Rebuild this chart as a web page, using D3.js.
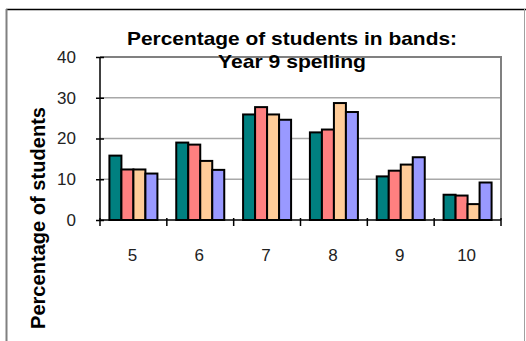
<!DOCTYPE html>
<html><head><meta charset="utf-8">
<script src="https://cdn.jsdelivr.net/npm/d3@7"></script>
<style>html,body{margin:0;padding:0;background:#fff;}svg{display:block;}</style>
</head><body>
<script>
const categories = ["5","6","7","8","9","10"];
const seriesNames = ["s1","s2","s3","s4"];
const s1 = [15.8, 19.0, 25.9, 21.5, 10.7, 6.2];
const s2 = [12.4, 18.5, 27.7, 22.2, 12.1, 6.0];
const s3 = [12.4, 14.5, 25.9, 28.7, 13.6, 3.9];
const s4 = [11.4, 12.3, 24.6, 26.5, 15.4, 9.2];
const colors = ["#008080", "#FF8080", "#FFCC99", "#9999FF"];
const yTicks = [0, 10, 20, 30, 40];
const titleLines = ["Percentage of students in bands:", "Year 9 spelling"];
const yTitle = "Percentage of students";

(function () {
const W = 526, H = 341;
const FONT = "Arial, 'Liberation Sans', sans-serif";
const svg = d3.select("body").append("svg").attr("width", W).attr("height", H);

// outer frame
svg.append("line").attr("x1", 6).attr("x2", W).attr("y1", 9.5).attr("y2", 9.5).attr("stroke", "#000").attr("stroke-width", 1.5);
svg.append("line").attr("x1", 6.5).attr("x2", 6.5).attr("y1", 9).attr("y2", H).attr("stroke", "#808080").attr("stroke-width", 2);
svg.append("line").attr("x1", 524.5).attr("x2", 524.5).attr("y1", 9).attr("y2", H).attr("stroke", "#a0a0a0").attr("stroke-width", 1);

const pL = 100, pR = 501, pT = 57, pB = 220;
const x = d3.scaleBand().domain(categories).range([pL, pR]).padding(0);
const y = d3.scaleLinear().domain([0, 40]).range([pB, pT]);
const barW = 12;
const xs = d3.scaleBand().domain(seriesNames).range([0, barW * 4]).padding(0);
const groupOff = (x.bandwidth() - barW * 4) / 2;

// gridlines
svg.append("g").selectAll("line").data(yTicks.filter(d => d > 0)).join("line")
  .attr("x1", pL).attr("x2", pR).attr("y1", d => y(d)).attr("y2", d => y(d))
  .attr("stroke", "#a8a8a8").attr("stroke-width", 1.5);
// plot border top/right
svg.append("path").attr("d", `M${pL},${pT}H${pR}V${pB}`).attr("fill", "none").attr("stroke", "#808080").attr("stroke-width", 2);

// bars
const all = [s1, s2, s3, s4];
all.forEach((vals, si) => {
  svg.append("g").selectAll("rect").data(vals).join("rect")
    .attr("x", (d, i) => x(categories[i]) + groupOff + xs(seriesNames[si]))
    .attr("y", d => y(d))
    .attr("width", xs.bandwidth())
    .attr("height", d => y(0) - y(d))
    .attr("fill", colors[si]).attr("stroke", "#000").attr("stroke-width", 2);
});

// y axis
const ya = svg.append("g").attr("transform", `translate(${pL},0)`)
  .call(d3.axisLeft(y).tickValues(yTicks).tickSize(4).tickPadding(20).tickFormat(d3.format("d")));
ya.select(".domain").attr("stroke", "#000").attr("stroke-width", 1.5).attr("d", `M0,${pT}V${pB}`);
ya.selectAll(".tick line").attr("x1", -4).attr("x2", 4).attr("stroke", "#000").attr("stroke-width", 1.5);
ya.selectAll("text").attr("font-family", FONT).attr("font-size", 17).attr("fill", "#222");

// x axis
const xa = svg.append("g").attr("transform", `translate(0,${pB})`)
  .call(d3.axisBottom(x).tickSize(0).tickPadding(29));
xa.select(".domain").attr("stroke", "#000").attr("stroke-width", 1.5).attr("d", `M${pL},0H${pR}`);
xa.selectAll("text").attr("font-family", FONT).attr("font-size", 17).attr("fill", "#222").attr("dx", -1);
const bounds = categories.map(c => x(c)).concat([pR]);
xa.append("g").selectAll("line").data(bounds).join("line")
  .attr("x1", d => d).attr("x2", d => d).attr("y1", -2).attr("y2", 6)
  .attr("stroke", "#000").attr("stroke-width", 1.5);

// title
const tt = svg.append("text").attr("font-family", FONT).attr("font-weight", "bold").attr("font-size", 19).attr("text-anchor", "middle").attr("fill", "#000");
tt.append("tspan").attr("x", 292).attr("y", 45).attr("textLength", 330).attr("lengthAdjust", "spacingAndGlyphs").text(titleLines[0]);
tt.append("tspan").attr("x", 292).attr("y", 68).attr("textLength", 148).attr("lengthAdjust", "spacingAndGlyphs").text(titleLines[1]);

// y title
svg.append("text").attr("transform", "translate(45,218) rotate(-90)")
  .attr("font-family", FONT).attr("font-weight", "bold").attr("font-size", 20)
  .attr("text-anchor", "middle").attr("fill", "#000")
  .attr("textLength", 222).attr("lengthAdjust", "spacingAndGlyphs").text(yTitle);
})();
</script>
</body></html>
